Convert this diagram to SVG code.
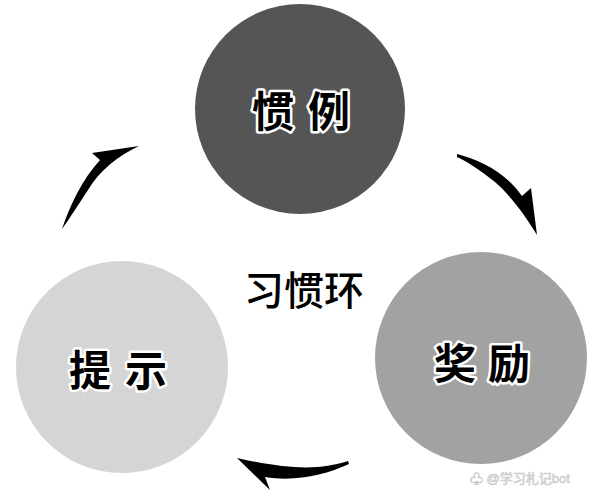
<svg xmlns="http://www.w3.org/2000/svg" width="600" height="500" viewBox="0 0 600 500">
<style>
.lbl{font-family:"Noto Sans CJK SC","Noto Sans CJK JP",sans-serif;font-weight:700;font-size:42px;fill:#000;stroke:#fff;stroke-width:5px;paint-order:stroke;stroke-linejoin:round;text-anchor:middle;dominant-baseline:central}
.title{font-family:"Noto Sans CJK SC",serif;font-weight:500;font-size:40px;fill:#000;text-anchor:middle;dominant-baseline:central}
.arrow{fill:#000}
.wm{font-family:"Liberation Sans","Noto Sans CJK SC",sans-serif;font-size:13px;fill:#e6e6e6;stroke:#c8c8c8;stroke-width:0.6px}
</style>
<rect width="600" height="500" fill="#fff"/>
<g id="node-habit">
<circle cx="300" cy="109" r="105" fill="#555555"/>
<text class="lbl" x="308" y="108" letter-spacing="14">惯例</text>
</g>
<g id="node-reward">
<circle cx="481" cy="358" r="106" fill="#a2a2a2"/>
<text class="lbl" x="488" y="360" letter-spacing="12">奖励</text>
</g>
<g id="node-cue">
<circle cx="122" cy="367" r="106" fill="#d5d5d5"/>
<text class="lbl" x="125" y="367" letter-spacing="14">提示</text>
</g>
<g id="center-label">
<text class="title" x="304" y="288">习惯环</text>
</g>
<g id="connectors">
<path class="arrow" d="M62,229 C70,205 82,180 100,160 L92,153 L139,146 C118,156 100,170 88,190 C78,205 70,218 62,229 Z"/>
<path class="arrow" d="M457,154 C480,160 505,172 522,196 L531,188 L537,235 C525,215 510,195 495,182 C480,170 468,162 457,157 Z"/>
<path class="arrow" d="M348,461 C320,470 290,470 237,458 L270,490 L265,477 C295,482 325,475 349,464 Z"/>
</g>
<text class="wm" x="470" y="483">♧ @学习札记bot</text>
</svg>
